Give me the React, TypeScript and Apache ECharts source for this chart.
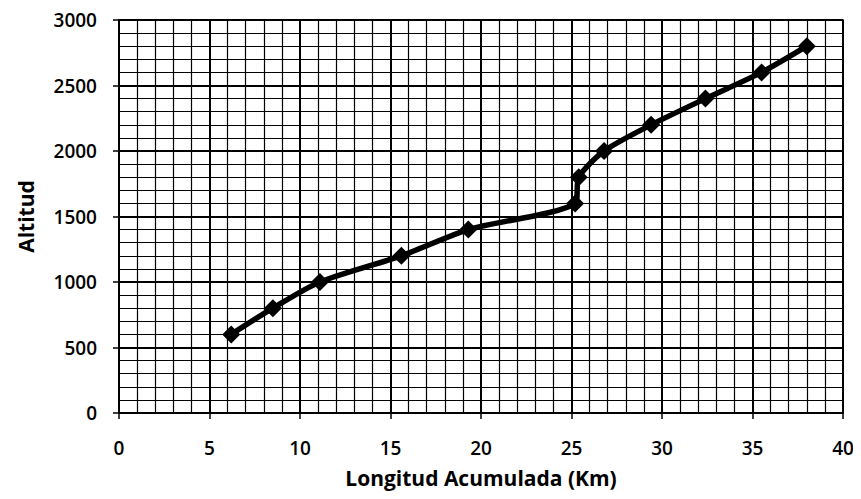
import React, { useEffect, useRef } from "react";
import * as echarts from "echarts";

const longitudKm = [6.2, 8.5, 11.1, 15.6, 19.3, 25.2, 25.4, 26.8, 29.4, 32.4, 35.5, 38.0];
const altitud = [600, 800, 1000, 1200, 1400, 1600, 1800, 2000, 2200, 2400, 2600, 2800];
const xAxisTitle = "Longitud Acumulada (Km)";
const yAxisTitle = "Altitud";

export default function App() {
  const ref = useRef<HTMLDivElement>(null);
  useEffect(() => {
    const chart = echarts.init(ref.current!, null, { renderer: "svg" });
    const font = "'Open Sans', Lato, sans-serif";
    const tickLabel = { fontFamily: font, fontWeight: 600, fontSize: 19, color: "#000" };
    const title = { fontFamily: font, fontWeight: "bold", fontSize: 21, color: "#000" };
    chart.setOption({
      animation: false,
      backgroundColor: "#fff",
      grid: {
        left: 111, right: 10, top: 12, bottom: 78,
        outerBoundsMode: "none",
        containLabel: false,
        show: true, borderColor: "#000", borderWidth: 1.5,
      },
      xAxis: {
        type: "value",
        min: 0,
        max: 40,
        interval: 5,
        name: xAxisTitle,
        nameLocation: "middle",
        nameGap: 54,
        nameTextStyle: title,
        axisLine: { show: true, lineStyle: { color: "#000", width: 1.5 } },
        axisTick: { show: true, length: 6, lineStyle: { color: "#000", width: 1.5 } },
        axisLabel: { ...tickLabel, margin: 25, formatter: (v: number) => String(v) },
        splitLine: { show: true, lineStyle: { color: "#000", width: 2 } },
        minorTick: { show: false, splitNumber: 5 },
        minorSplitLine: { show: true, lineStyle: { color: "#000", width: 1.2 } },
      },
      yAxis: {
        type: "value",
        min: 0,
        max: 3000,
        interval: 500,
        name: yAxisTitle,
        nameLocation: "middle",
        nameGap: 83,
        nameTextStyle: title,
        axisLine: { show: true, lineStyle: { color: "#000", width: 1.5 } },
        axisTick: { show: true, length: 6, lineStyle: { color: "#000", width: 1.5 } },
        axisLabel: { ...tickLabel, margin: 22, formatter: (v: number) => String(v) },
        splitLine: { show: true, lineStyle: { color: "#000", width: 2 } },
        minorTick: { show: false, splitNumber: 5 },
        minorSplitLine: { show: true, lineStyle: { color: "#000", width: 1.2 } },
      },
      series: [
        {
          type: "line",
          data: longitudKm.map((x, i) => [x, altitud[i]]),
          smooth: 0.25,
          symbol: "diamond",
          symbolSize: 18,
          lineStyle: { color: "#000", width: 5.5 },
          itemStyle: { color: "#000" },
        },
      ],
    });
    return () => chart.dispose();
  }, []);
  return <div ref={ref} style={{ width: 845, height: 483 }} />;
}
